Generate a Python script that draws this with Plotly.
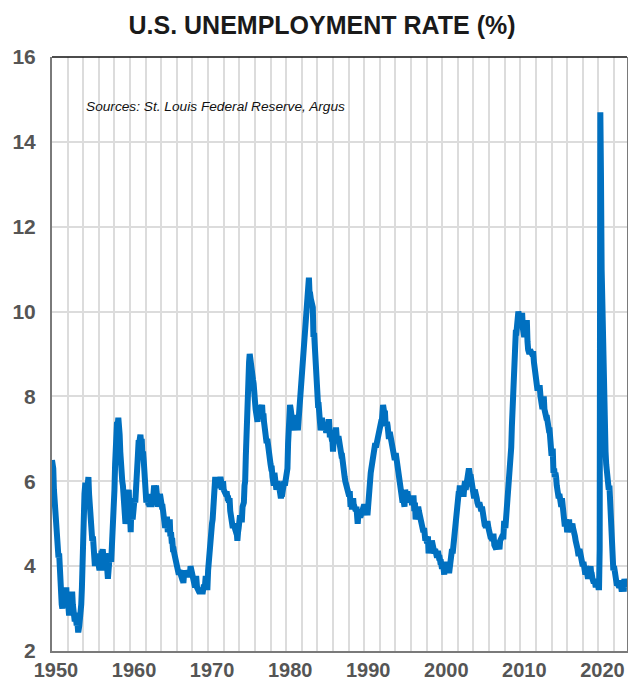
import pandas as pd
import plotly.graph_objects as go

# Monthly U.S. unemployment rate (%), Jan of first year through Dec of last year of each decade
rate_1950s = [
    6.5, 6.4, 6.3, 5.8, 5.5, 5.4, 5.0, 4.5, 4.4, 4.2, 4.2, 4.3,
    3.7, 3.4, 3.4, 3.1, 3.0, 3.2, 3.1, 3.1, 3.3, 3.5, 3.5, 3.1,
    3.2, 3.1, 2.9, 2.9, 3.0, 3.0, 3.2, 3.4, 3.1, 3.0, 2.8, 2.7,
    2.9, 2.6, 2.6, 2.7, 2.5, 2.5, 2.6, 2.7, 2.9, 3.1, 3.5, 4.5,
    4.9, 5.2, 5.7, 5.9, 5.9, 5.6, 5.8, 6.0, 6.1, 5.7, 5.3, 5.0,
    4.9, 4.7, 4.6, 4.7, 4.3, 4.2, 4.0, 4.2, 4.1, 4.3, 4.2, 4.2,
    4.0, 3.9, 4.2, 4.0, 4.3, 4.3, 4.4, 4.1, 3.9, 3.9, 4.3, 4.2,
    4.2, 3.9, 3.7, 3.9, 4.1, 4.3, 4.2, 4.1, 4.4, 4.5, 5.1, 5.2,
    5.8, 6.4, 6.7, 7.4, 7.4, 7.3, 7.5, 7.4, 7.1, 6.7, 6.2, 6.2,
    6.0, 5.9, 5.6, 5.2, 5.1, 5.0, 5.1, 5.2, 5.5, 5.7, 5.8, 5.3,
]
rate_1960s = [
    5.2, 4.8, 5.4, 5.2, 5.1, 5.4, 5.5, 5.6, 5.5, 6.1, 6.1, 6.6,
    6.6, 6.9, 6.9, 7.0, 7.1, 6.9, 7.0, 6.6, 6.7, 6.5, 6.1, 6.0,
    5.8, 5.5, 5.6, 5.6, 5.5, 5.5, 5.4, 5.7, 5.6, 5.4, 5.7, 5.5,
    5.7, 5.9, 5.7, 5.7, 5.9, 5.6, 5.6, 5.4, 5.5, 5.5, 5.7, 5.5,
    5.6, 5.4, 5.4, 5.3, 5.1, 5.2, 4.9, 5.0, 5.1, 5.1, 4.8, 5.0,
    4.9, 5.1, 4.7, 4.8, 4.6, 4.6, 4.4, 4.4, 4.3, 4.2, 4.1, 4.0,
    4.0, 3.8, 3.8, 3.8, 3.9, 3.8, 3.8, 3.8, 3.7, 3.7, 3.6, 3.8,
    3.9, 3.8, 3.8, 3.8, 3.8, 3.9, 3.8, 3.8, 3.8, 4.0, 3.9, 3.8,
    3.7, 3.8, 3.7, 3.5, 3.5, 3.7, 3.7, 3.5, 3.4, 3.4, 3.4, 3.4,
    3.4, 3.4, 3.4, 3.4, 3.4, 3.5, 3.5, 3.5, 3.7, 3.7, 3.5, 3.5,
]
rate_1970s = [
    3.9, 4.2, 4.4, 4.6, 4.8, 4.9, 5.0, 5.1, 5.4, 5.5, 5.9, 6.1,
    5.9, 5.9, 6.0, 5.9, 5.9, 5.9, 6.0, 6.1, 6.0, 5.8, 6.0, 6.0,
    5.8, 5.7, 5.8, 5.7, 5.7, 5.7, 5.6, 5.6, 5.5, 5.6, 5.3, 5.2,
    4.9, 5.0, 4.9, 5.0, 4.9, 4.9, 4.8, 4.8, 4.8, 4.6, 4.8, 4.9,
    5.1, 5.2, 5.1, 5.1, 5.1, 5.4, 5.5, 5.5, 5.9, 6.0, 6.6, 7.2,
    8.1, 8.1, 8.6, 8.8, 9.0, 8.8, 8.6, 8.4, 8.4, 8.4, 8.3, 8.2,
    7.9, 7.7, 7.6, 7.7, 7.4, 7.6, 7.8, 7.8, 7.6, 7.7, 7.8, 7.8,
    7.5, 7.6, 7.4, 7.2, 7.0, 7.2, 6.9, 7.0, 6.8, 6.8, 6.8, 6.4,
    6.4, 6.3, 6.3, 6.1, 6.0, 5.9, 6.2, 5.9, 6.0, 5.8, 5.9, 6.0,
    5.9, 5.9, 5.8, 5.8, 5.6, 5.7, 5.7, 6.0, 5.9, 6.0, 5.9, 6.0,
]
rate_1980s = [
    6.3, 6.3, 6.3, 6.9, 7.5, 7.6, 7.8, 7.7, 7.5, 7.5, 7.5, 7.2,
    7.5, 7.4, 7.4, 7.2, 7.5, 7.5, 7.2, 7.4, 7.6, 7.9, 8.3, 8.5,
    8.6, 8.9, 9.0, 9.3, 9.4, 9.6, 9.8, 9.8, 10.1, 10.4, 10.8, 10.8,
    10.4, 10.4, 10.3, 10.2, 10.1, 10.1, 9.4, 9.5, 9.2, 8.8, 8.5, 8.3,
    8.0, 7.8, 7.8, 7.7, 7.4, 7.2, 7.5, 7.5, 7.3, 7.4, 7.2, 7.3,
    7.3, 7.2, 7.2, 7.3, 7.2, 7.4, 7.4, 7.1, 7.1, 7.1, 7.0, 7.0,
    6.7, 7.2, 7.2, 7.1, 7.2, 7.2, 7.0, 6.9, 7.0, 7.0, 6.9, 6.6,
    6.6, 6.6, 6.6, 6.3, 6.3, 6.2, 6.1, 6.0, 5.9, 6.0, 5.8, 5.7,
    5.7, 5.7, 5.7, 5.4, 5.6, 5.4, 5.4, 5.6, 5.4, 5.4, 5.3, 5.3,
    5.4, 5.2, 5.0, 5.2, 5.2, 5.3, 5.2, 5.2, 5.3, 5.3, 5.4, 5.4,
]
rate_1990s = [
    5.4, 5.3, 5.2, 5.4, 5.4, 5.2, 5.5, 5.7, 5.9, 5.9, 6.2, 6.3,
    6.4, 6.6, 6.8, 6.7, 6.9, 6.9, 6.8, 6.9, 6.9, 7.0, 7.0, 7.3,
    7.3, 7.4, 7.4, 7.4, 7.6, 7.8, 7.7, 7.6, 7.6, 7.3, 7.4, 7.4,
    7.3, 7.1, 7.0, 7.1, 7.1, 7.0, 6.9, 6.8, 6.7, 6.8, 6.6, 6.5,
    6.6, 6.6, 6.5, 6.4, 6.1, 6.1, 6.1, 6.0, 5.9, 5.8, 5.6, 5.5,
    5.6, 5.4, 5.4, 5.8, 5.6, 5.6, 5.7, 5.7, 5.6, 5.5, 5.6, 5.6,
    5.6, 5.5, 5.5, 5.6, 5.6, 5.3, 5.5, 5.1, 5.2, 5.2, 5.4, 5.4,
    5.3, 5.2, 5.2, 5.1, 4.9, 5.0, 4.9, 4.8, 4.9, 4.7, 4.6, 4.7,
    4.6, 4.6, 4.7, 4.3, 4.4, 4.5, 4.5, 4.5, 4.6, 4.5, 4.4, 4.4,
    4.3, 4.4, 4.2, 4.3, 4.2, 4.3, 4.3, 4.2, 4.2, 4.1, 4.1, 4.0,
]
rate_2000s = [
    4.0, 4.1, 4.0, 3.8, 4.0, 4.0, 4.0, 4.1, 3.9, 3.9, 3.9, 3.9,
    4.2, 4.2, 4.3, 4.4, 4.3, 4.5, 4.6, 4.9, 5.0, 5.3, 5.5, 5.7,
    5.7, 5.7, 5.7, 5.9, 5.8, 5.8, 5.8, 5.7, 5.7, 5.7, 5.9, 6.0,
    5.8, 5.9, 5.9, 6.0, 6.1, 6.3, 6.2, 6.1, 6.1, 6.0, 5.8, 5.7,
    5.7, 5.6, 5.8, 5.6, 5.6, 5.6, 5.5, 5.4, 5.4, 5.5, 5.4, 5.4,
    5.3, 5.4, 5.2, 5.2, 5.1, 5.0, 5.0, 4.9, 5.0, 5.0, 5.0, 4.9,
    4.7, 4.8, 4.7, 4.7, 4.6, 4.6, 4.7, 4.7, 4.5, 4.4, 4.5, 4.4,
    4.6, 4.5, 4.4, 4.5, 4.4, 4.6, 4.7, 4.6, 4.7, 4.7, 4.7, 5.0,
    5.0, 4.9, 5.1, 5.0, 5.4, 5.6, 5.8, 6.1, 6.1, 6.5, 6.8, 7.3,
    7.8, 8.3, 8.7, 9.0, 9.4, 9.5, 9.5, 9.6, 9.8, 10.0, 9.9, 9.9,
]
rate_2010s = [
    9.8, 9.8, 9.9, 9.9, 9.6, 9.4, 9.4, 9.5, 9.5, 9.4, 9.8, 9.3,
    9.1, 9.0, 9.0, 9.1, 9.0, 9.1, 9.0, 9.0, 9.0, 8.8, 8.6, 8.5,
    8.3, 8.3, 8.2, 8.2, 8.2, 8.2, 8.2, 8.0, 7.8, 7.8, 7.7, 7.9,
    8.0, 7.7, 7.5, 7.6, 7.5, 7.5, 7.3, 7.2, 7.2, 7.2, 6.9, 6.7,
    6.6, 6.7, 6.7, 6.2, 6.3, 6.1, 6.2, 6.1, 5.9, 5.7, 5.8, 5.6,
    5.7, 5.5, 5.4, 5.4, 5.6, 5.3, 5.2, 5.1, 5.0, 5.0, 5.1, 5.0,
    4.8, 4.9, 5.0, 5.1, 4.8, 4.9, 4.8, 4.9, 5.0, 4.9, 4.7, 4.7,
    4.7, 4.6, 4.4, 4.4, 4.4, 4.3, 4.3, 4.4, 4.3, 4.2, 4.2, 4.1,
    4.0, 4.1, 4.0, 4.0, 3.8, 4.0, 3.8, 3.8, 3.7, 3.8, 3.8, 3.9,
    4.0, 3.8, 3.8, 3.7, 3.6, 3.6, 3.7, 3.6, 3.5, 3.6, 3.6, 3.6,
]
rate_2020s = [
    3.5, 3.5, 4.4, 14.7, 13.2, 11.0, 10.2, 8.4, 7.9, 6.9, 6.7, 6.7,
    6.4, 6.2, 6.1, 6.1, 5.8, 5.9, 5.4, 5.1, 4.7, 4.5, 4.1, 3.9,
    4.0, 3.8, 3.6, 3.7, 3.6, 3.6, 3.5, 3.6, 3.5, 3.6, 3.6, 3.5,
    3.4, 3.6, 3.5, 3.4, 3.7, 3.6, 3.5,
]

series_start = "1950-01-01"
x_range = ["1950-01-01", "2023-09-01"]
y_ticks = [2, 4, 6, 8, 10, 12, 14, 16]
title_text = "U.S. UNEMPLOYMENT RATE (%)"
source_text = "Sources: St. Louis Federal Reserve, Argus"

rates = rate_1950s + rate_1960s + rate_1970s + rate_1980s + rate_1990s + rate_2000s + rate_2010s + rate_2020s
dates = pd.date_range(series_start, periods=len(rates), freq="MS")

grid_color = "#dcdcdc"
axis_color = "#7a7a7a"
y_tick_font = dict(family="Liberation Sans, Arial, sans-serif", size=21, color="#555555", weight="bold")
x_tick_font = dict(family="Liberation Sans, Arial, sans-serif", size=20, color="#555555", weight="bold")

# The page body has an 8px default margin, so the figure is sized to fill
# the remaining 628x673 area of the 636x681 window exactly.
fig_w, fig_h = 628, 673

fig = go.Figure()
fig.add_trace(go.Scatter(
    x=dates, y=rates, mode="lines",
    line=dict(color="#0070C0", width=6),
    hoverinfo="skip", showlegend=False,
))

fig.update_layout(
    width=fig_w, height=fig_h,
    margin=dict(l=44, r=9, t=49, b=30, autoexpand=False),
    paper_bgcolor="white", plot_bgcolor="white",
    title=dict(
        text=title_text, xref="container", x=0.5, xanchor="center",
        yref="container", y=1 - 17 / fig_h, yanchor="middle",
        font=dict(family="Liberation Sans, Arial, sans-serif",
                  size=25, color="#1a1a1a", weight="bold"),
    ),
    xaxis=dict(
        type="date", range=x_range, automargin=False,
        tick0=series_start, dtick="M120", tickformat="%Y",
        showgrid=True, gridcolor=grid_color, gridwidth=1.5,
        minor=dict(dtick="M24", tick0=series_start, showgrid=True, gridcolor=grid_color, gridwidth=1.5),
        showline=True, linecolor=axis_color, linewidth=2,
        ticks="", tickfont=x_tick_font, ticklabelstandoff=0, ticklabelshift=4,
        zeroline=False,
    ),
    yaxis=dict(
        range=[2, 16], tickvals=y_ticks, automargin=False,
        showgrid=True, gridcolor=grid_color, gridwidth=1.5,
        showline=True, linecolor=axis_color, linewidth=2, mirror=True,
        ticks="", tickfont=y_tick_font, ticklabelstandoff=10,
        zeroline=False,
    ),
)

# top border (thin, dark)
fig.add_shape(type="line", xref="paper", yref="paper", x0=0, x1=1, y0=1, y1=1,
              line=dict(color="#111111", width=1.5), layer="above")

# white box behind the source note (covers gridlines)
fig.add_shape(type="rect", xref="paper", yref="paper", x0=0.04, x1=0.527, y0=0.891, y1=0.944,
              fillcolor="white", line=dict(width=0), layer="between")
fig.add_annotation(
    text=source_text, xref="paper", yref="paper", x=0.055, y=0.9175,
    xanchor="left", yanchor="middle", showarrow=False,
    font=dict(family="Liberation Sans, Arial, sans-serif", size=13.7, color="#111111", style="italic"),
)

fig.write_html("out.html")
